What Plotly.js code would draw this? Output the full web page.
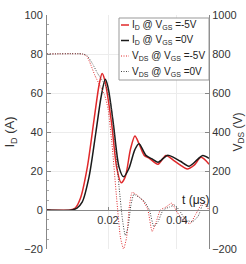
<!DOCTYPE html>
<html>
<head>
<meta charset="utf-8">
<script src="https://cdn.plot.ly/plotly-3.0.1.min.js"></script>
<style>html,body{margin:0;padding:0;background:#fff;}#chart{width:246px;height:264px;}</style>
</head>
<body>
<div id="chart"></div>
<script>
// I_D @ V_GS = -5V (A)
var tIdNeg = [0.0023, 0.0090, 0.0105, 0.0120, 0.0140, 0.0160, 0.0175, 0.0183, 0.0190, 0.0210, 0.0225, 0.0238, 0.0250, 0.0265, 0.0278, 0.0290, 0.0305, 0.0320, 0.0345, 0.0368, 0.0390, 0.0410, 0.0430, 0.0450, 0.0470, 0.0493];
var idNeg  = [0, 0, 1, 6, 22, 47, 65, 70, 67, 45, 22, 14, 17, 31, 38, 34, 28, 26.5, 23.5, 28, 25.5, 23, 21, 23, 27, 23.5];
// I_D @ V_GS = 0V (A)
var tId0 = [0.0023, 0.0095, 0.0110, 0.0125, 0.0145, 0.0165, 0.0180, 0.0192, 0.0200, 0.0215, 0.0232, 0.0245, 0.0260, 0.0278, 0.0290, 0.0310, 0.0330, 0.0345, 0.0372, 0.0390, 0.0410, 0.0435, 0.0460, 0.0475, 0.0493];
var id0  = [0, 0, 1, 4, 17, 40, 58, 67, 63, 45, 22, 17, 21, 31, 34, 28, 26, 24.5, 28, 27, 25, 22.5, 26, 28, 26.5];
// V_DS @ V_GS = -5V (V)
var tVdsNeg = [0.0023, 0.0125, 0.0138, 0.0150, 0.0162, 0.0176, 0.0190, 0.0200, 0.0212, 0.0225, 0.0236, 0.0245, 0.0254, 0.0262, 0.0270, 0.0282, 0.0300, 0.0315, 0.0328, 0.0340, 0.0352, 0.0368, 0.0385, 0.0400, 0.0420, 0.0438, 0.0455, 0.0476, 0.0493];
var vdsNeg  = [800, 800, 790, 745, 690, 640, 590, 520, 330, 60, -140, -200, -140, 20, 90, 80, 50, 5, -110, -60, 0, 15, 35, -10, -55, -70, -20, 40, 0];
// V_DS @ V_GS = 0V (V)
var tVds0 = [0.0023, 0.0128, 0.0140, 0.0155, 0.0170, 0.0185, 0.0198, 0.0210, 0.0220, 0.0232, 0.0242, 0.0250, 0.0258, 0.0266, 0.0275, 0.0290, 0.0305, 0.0320, 0.0333, 0.0345, 0.0360, 0.0378, 0.0394, 0.0410, 0.0425, 0.0445, 0.0462, 0.0478, 0.0493];
var vds0  = [800, 800, 790, 750, 700, 660, 620, 520, 350, 120, -50, -130, -90, 20, 80, 65, 45, 0, -85, -60, 0, 15, 25, -10, -50, -60, -30, 40, 10];

var xTicks = [0.02, 0.04];
var xTickText = ['0.02', '0.04'];
var legendNames = [
  'I<sub>D</sub> @ V<sub>GS</sub> =-5V',
  'I<sub>D</sub> @ V<sub>GS</sub> =0V',
  'V<sub>DS</sub> @ V<sub>GS</sub> =-5V',
  'V<sub>DS</sub> @ V<sub>GS</sub> =0V'
];

var RED = '#e0282a', BLK = '#1a1a1a';
var traces = [
  {x: tIdNeg, y: idNeg, name: legendNames[0], mode: 'lines', line: {color: RED, width: 1.5, shape: 'spline', smoothing: 0.8}},
  {x: tId0, y: id0, name: legendNames[1], mode: 'lines', line: {color: BLK, width: 1.5, shape: 'spline', smoothing: 0.8}},
  {x: tVdsNeg, y: vdsNeg, name: legendNames[2], yaxis: 'y2', mode: 'lines', line: {color: RED, width: 1, dash: '1px,1.5px', shape: 'spline', smoothing: 0.5}},
  {x: tVds0, y: vds0, name: legendNames[3], yaxis: 'y2', mode: 'lines', line: {color: '#444', width: 1, dash: '1px,1.5px', shape: 'spline', smoothing: 0.5}}
];

// manual compact legend (paper coordinates)
var L = 47, W = 162, B = 249, H = 234;
function px(x){ return (x - L) / W; }
function py(y){ return (B - y) / H; }
var rows = [25, 40.5, 56, 71.5];
var shapes = [{type: 'rect', xref: 'paper', yref: 'paper', x0: px(119), x1: px(209), y0: py(80), y1: py(18),
  fillcolor: '#fff', line: {color: '#999', width: 1}, layer: 'above'}];
var annotations = [];
var styles = [traces[0].line, traces[1].line, traces[2].line, traces[3].line];
for (var i = 0; i < 4; i++) {
  shapes.push({type: 'line', xref: 'paper', yref: 'paper', x0: px(121), x1: px(129), y0: py(rows[i]), y1: py(rows[i]),
    line: {color: styles[i].color, width: styles[i].width, dash: styles[i].dash || 'solid'}, layer: 'above'});
  annotations.push({xref: 'paper', yref: 'paper', x: px(130), y: py(rows[i]), xanchor: 'left', yanchor: 'middle',
    text: legendNames[i], showarrow: false, font: {size: 10, color: '#222', family: 'Liberation Sans, Arial, sans-serif'}});
}
annotations.push({xref: 'x', yref: 'y', x: 0.0455, y: 5, text: 't (μs)', showarrow: false,
  font: {size: 12, color: '#222', family: 'Liberation Sans, Arial, sans-serif'}});
// right axis title, at the page edge as in the reference
annotations.push({xref: 'paper', yref: 'paper', x: px(238.5), y: py(132), xanchor: 'center', yanchor: 'middle',
  text: 'V<sub>DS</sub> (V)', textangle: -90, showarrow: false,
  font: {size: 12, color: '#333', family: 'Liberation Sans, Arial, sans-serif'}});

var layout = {
  width: 246, height: 264,
  margin: {l: 47, r: 37, t: 15, b: 15},
  paper_bgcolor: '#fff', plot_bgcolor: '#fff',
  showlegend: false,
  font: {family: 'Liberation Sans, Arial, sans-serif', size: 11, color: '#333'},
  xaxis: {range: [0.0023, 0.0493], tickvals: xTicks, ticktext: xTickText, anchor: 'free', position: 20/120,
    showline: true, linecolor: '#888', linewidth: 1, ticks: 'inside', ticklen: 3, tickcolor: '#888',
    showgrid: true, gridcolor: '#ececec', zeroline: false, automargin: false},
  yaxis: {range: [-20, 100], dtick: 20, showline: true, linecolor: '#888', ticks: 'inside', ticklen: 4, tickcolor: '#888',
    minor: {dtick: 5, ticks: 'inside', ticklen: 2, tickcolor: '#aaa', showgrid: false},
    showgrid: true, gridcolor: '#ececec', zeroline: false, automargin: false, ticklabelstandoff: 1,
    title: {text: 'I<sub>D</sub> (A)', font: {size: 13, color: '#333'}, standoff: 6}},
  yaxis2: {range: [-200, 1000], dtick: 200, overlaying: 'y', side: 'right', showline: true, linecolor: '#888',
    ticks: 'inside', ticklen: 4, tickcolor: '#888', showgrid: false, zeroline: false, automargin: false},
  shapes: shapes,
  annotations: annotations
};

Plotly.newPlot('chart', traces, layout, {displayModeBar: false, staticPlot: true});
</script>
</body>
</html>
